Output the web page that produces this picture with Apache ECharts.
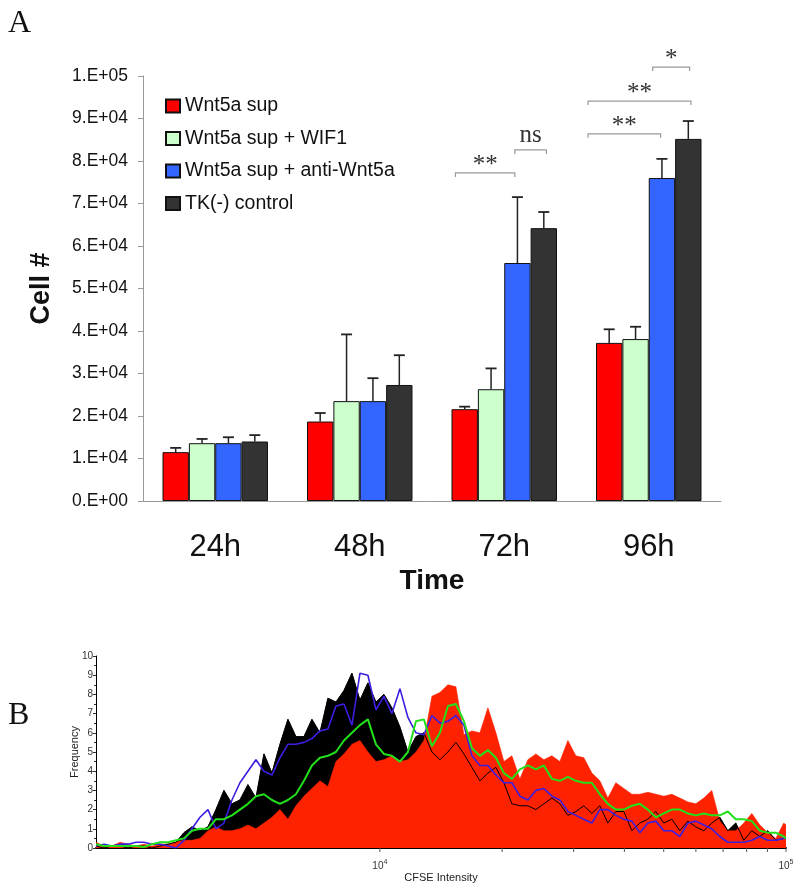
<!DOCTYPE html>
<html>
<head>
<meta charset="utf-8">
<script src="https://cdn.jsdelivr.net/npm/echarts@6/dist/echarts.min.js"></script>
<style>
  html, body { margin: 0; padding: 0; background: #fff; }
  #main { width: 800px; height: 893px; }
</style>
</head>
<body>
<div id="main"></div>
<script>
// ---- panel A: cell counts ----
var times = ['24h', '48h', '72h', '96h'];
var groupNames = ['Wnt5a sup', 'Wnt5a sup + WIF1', 'Wnt5a sup + anti-Wnt5a', 'TK(-) control'];
var wnt5a = [11500, 18700, 21600, 37200];
var wif1 = [13600, 23500, 26300, 38100];
var antiWnt5a = [13600, 23500, 56000, 76000];
var tkControl = [14000, 27300, 64200, 85200];
// upper error (SD)
var wnt5aErr = [1000, 2000, 600, 3200];
var wif1Err = [1000, 15700, 4900, 2900];
var antiWnt5aErr = [1400, 5400, 15500, 4500];
var tkControlErr = [1500, 7000, 3800, 4200];
var cellTickLabels = ['0.E+00', '1.E+04', '2.E+04', '3.E+04', '4.E+04', '5.E+04',
  '6.E+04', '7.E+04', '8.E+04', '9.E+04', '1.E+05'];

// significance brackets (time index, from bar, to bar, height)
var sigTime = [2, 2, 3, 3, 3];
var sigFrom = [-0.35, 1.9, -0.8, -0.8, 1.65];
var sigTo = [1.9, 3.1, 1.95, 3.1, 3.05];
var sigLevel = [77200, 82600, 86400, 94100, 102100];
var sigText = ['**', 'ns', '**', '**', '*'];

// ---- panel B: CFSE histogram ----
var cfse = [2000, 2093, 2190, 2291, 2398, 2509, 2625, 2747, 2874, 3008,
  3147, 3293, 3446, 3606, 3773, 3948, 4131, 4323, 4523, 4733,
  4953, 5183, 5423, 5675, 5938, 6213, 6502, 6803, 7119, 7449,
  7795, 8157, 8535, 8931, 9345, 9779, 10233, 10707, 11204, 11724,
  12268, 12837, 13432, 14055, 14707, 15390, 16103, 16850, 17632, 18450,
  19306, 20201, 21138, 22118, 23144, 24218, 25341, 26517, 27747, 29034,
  30380, 31789, 33264, 34807, 36421, 38111, 39879, 41728, 43664, 45689,
  47808, 50026, 52346, 54774, 57315, 59973, 62755, 65666, 68712, 71899,
  75234, 78724, 82375, 86196, 90194, 94378, 98756, 100000];
var redFreq = [0.3, 0.1, 0.1, 0.3, 0.2, 0.1, 0.2, 0.1, 0.2, 0.2,
  0.3, 0.4, 0.4, 0.5, 0.9, 1.1, 0.9, 0.9, 1.0, 1.2,
  1.0, 1.3, 1.6, 2.0, 1.5, 2.2, 2.7, 3.1, 3.5, 3.2,
  4.5, 4.9, 5.4, 5.6, 5.0, 4.5, 4.6, 4.8, 4.5, 4.6,
  5.0, 5.6, 7.9, 8.1, 8.5, 8.4, 5.9, 6.1, 6.0, 7.3,
  6.0, 4.5, 4.8, 3.6, 4.6, 4.9, 4.6, 4.8, 4.5, 5.6,
  4.8, 4.7, 3.9, 3.5, 2.6, 3.4, 3.1, 2.8, 2.8, 2.9,
  2.8, 2.7, 2.8, 2.6, 2.4, 2.3, 2.6, 3.0, 1.4, 0.9,
  0.9, 1.3, 1.8, 1.2, 0.8, 0.5, 1.3, 1.2];
var blackFreq = [0.1, 0.0, 0.1, 0.1, 0.0, 0.1, 0.1, 0.0, 0.1, 0.2,
  0.3, 0.8, 1.1, 0.9, 1.1, 2.0, 3.0, 2.3, 2.5, 3.3,
  2.6, 4.9, 3.9, 5.4, 6.7, 5.8, 5.8, 6.7, 6.0, 7.8,
  7.6, 8.2, 9.1, 7.7, 8.6, 7.6, 8.0, 7.3, 6.3, 5.0,
  5.8, 6.0, 5.0, 4.6, 5.0, 5.5, 4.9, 4.2, 3.5, 3.9,
  4.2, 3.4, 2.3, 2.2, 2.2, 2.0, 2.3, 2.6, 2.3, 1.7,
  1.9, 2.2, 1.8, 2.2, 1.3, 1.9, 1.9, 0.9, 1.3, 1.5,
  1.9, 1.3, 1.5, 0.9, 1.4, 1.1, 0.9, 1.3, 1.6, 0.9,
  1.3, 0.4, 0.9, 0.6, 0.9, 0.4, 0.5, 0.5];
var blueFreq = [0.1, 0.2, 0.1, 0.2, 0.2, 0.3, 0.3, 0.2, 0.2, 0.1,
  0.0, 0.4, 1.0, 1.6, 2.0, 1.0, 1.3, 2.5, 3.4, 4.0,
  4.6, 4.0, 3.8, 4.7, 5.4, 5.4, 5.5, 5.7, 6.1, 6.2,
  7.4, 7.5, 6.4, 9.1, 9.0, 7.2, 7.9, 7.0, 8.3, 6.8,
  6.0, 5.9, 6.9, 6.5, 6.6, 6.9, 6.4, 4.8, 4.3, 4.3,
  3.8, 3.4, 3.4, 2.7, 2.5, 3.0, 3.1, 2.7, 2.5, 1.9,
  1.7, 1.5, 1.3, 2.0, 2.0, 1.7, 1.5, 1.4, 0.8, 1.3,
  1.4, 0.9, 0.9, 0.6, 1.3, 1.4, 1.2, 1.0, 0.6, 0.3,
  0.3, 0.3, 0.4, 0.6, 0.4, 0.4, 0.5, 0.5];
var greenFreq = [0.2, 0.1, 0.1, 0.1, 0.1, 0.1, 0.05, 0.2, 0.3, 0.3,
  0.4, 0.5, 0.9, 1.0, 1.0, 1.5, 1.5, 1.7, 2.0, 2.3,
  2.7, 2.8, 2.5, 2.3, 2.5, 2.8, 3.5, 4.3, 4.7, 4.8,
  5.0, 5.6, 6.0, 6.4, 6.7, 5.4, 4.9, 4.8, 4.5, 5.0,
  6.6, 6.7, 5.3, 6.0, 7.4, 7.5, 6.6, 5.2, 4.8, 5.1,
  4.7, 3.9, 3.6, 4.1, 4.3, 4.1, 4.3, 3.6, 3.5, 3.7,
  3.5, 3.4, 3.4, 2.8, 2.3, 2.0, 2.0, 2.2, 2.3, 2.0,
  1.6, 1.8, 2.0, 2.0, 1.8, 1.7, 1.8, 1.7, 1.7, 1.9,
  1.5, 1.5, 1.4, 0.9, 0.8, 0.8, 0.6, 0.5];
var cfseTicks = [10000, 20000, 30000, 40000, 50000, 60000, 70000, 80000, 90000, 100000];

var SANS = '"Liberation Sans", Arial, sans-serif';
var SERIF = '"Liberation Serif", "Times New Roman", serif';
var barColors = ['#ff0000', '#ccffcc', '#3366ff', '#333333'];
var GAP = 0.27;

function pairs(xs, ys) {
  return xs.map(function (x, i) { return [x, ys[i]]; });
}

function errRender(barIdx) {
  return function (params, api) {
    var c = api.value(0), v = api.value(1), e = api.value(2);
    var bw = api.size([1, 0])[0] * (1 - GAP) / 4;
    var base = api.coord([c, v]);
    var top = api.coord([c, v + e]);
    var x = base[0] + (barIdx - 1.5) * bw;
    return {
      type: 'group',
      children: [
        { type: 'line', shape: { x1: x, y1: base[1], x2: x, y2: top[1] }, style: { stroke: '#222', lineWidth: 1.5 } },
        { type: 'line', shape: { x1: x - 5.5, y1: top[1], x2: x + 5.5, y2: top[1] }, style: { stroke: '#222', lineWidth: 1.8 } }
      ]
    };
  };
}

function sigRender(params, api) {
  var c = api.value(0);
  var bw = api.size([1, 0])[0] * (1 - GAP) / 4;
  var p = api.coord([c, api.value(3)]);
  var x1 = p[0] + (api.value(1) - 1.5) * bw;
  var x2 = p[0] + (api.value(2) - 1.5) * bw;
  var y = p[1];
  var txt = sigText[params.dataIndex];
  var isStar = txt.indexOf('*') >= 0;
  return {
    type: 'group',
    children: [
      { type: 'polyline', shape: { points: [[x1, y + 4], [x1, y], [x2, y], [x2, y + 4]] },
        style: { stroke: '#999', lineWidth: 1.2, fill: null } },
      { type: 'text', style: { text: txt, x: (x1 + x2) / 2, y: isStar ? y + 5 : y - 2,
        align: 'center', verticalAlign: 'bottom', fontFamily: SERIF,
        fontSize: 25, fill: '#333' } }
    ]
  };
}

function tickRender(params, api) {
  var v = api.value(0);
  var p = api.coord([v, 0]);
  return { type: 'line', shape: { x1: p[0], y1: p[1], x2: p[0], y2: p[1] + 4 },
    style: { stroke: '#555', lineWidth: 1 } };
}

var cellSeries = [wnt5a, wif1, antiWnt5a, tkControl];
var errSeries = [wnt5aErr, wif1Err, antiWnt5aErr, tkControlErr];

var series = [];
cellSeries.forEach(function (vals, k) {
  series.push({
    name: groupNames[k], type: 'bar', xAxisIndex: 0, yAxisIndex: 0,
    data: vals, barGap: '0%', barCategoryGap: (GAP * 100) + '%',
    itemStyle: { color: barColors[k], borderColor: '#111', borderWidth: 1 }
  });
});
errSeries.forEach(function (errs, k) {
  series.push({
    type: 'custom', xAxisIndex: 0, yAxisIndex: 0, z: 5, clip: false,
    renderItem: errRender(k),
    data: cellSeries[k].map(function (v, i) { return [i, v, errs[i]]; })
  });
});
series.push({
  type: 'custom', xAxisIndex: 0, yAxisIndex: 0, z: 5, clip: false,
  renderItem: sigRender,
  data: sigTime.map(function (t, i) { return [t, sigFrom[i], sigTo[i], sigLevel[i]]; })
});
// panel B
series.push({
  type: 'line', xAxisIndex: 1, yAxisIndex: 1, data: pairs(cfse, blackFreq), showSymbol: false,
  lineStyle: { color: '#000', width: 0.6 }, areaStyle: { color: '#000', opacity: 1 }, z: 1
});
series.push({
  type: 'line', xAxisIndex: 1, yAxisIndex: 1, data: pairs(cfse, redFreq), showSymbol: false,
  lineStyle: { color: '#ff2200', width: 0.6 }, areaStyle: { color: '#ff2200', opacity: 1 }, z: 2
});
series.push({
  type: 'line', xAxisIndex: 1, yAxisIndex: 1, data: pairs(cfse, blackFreq), showSymbol: false,
  lineStyle: { color: '#000', width: 1 }, z: 3
});
series.push({
  type: 'line', xAxisIndex: 1, yAxisIndex: 1, data: pairs(cfse, blueFreq), showSymbol: false,
  lineStyle: { color: '#3b1fe0', width: 1.6 }, z: 4
});
series.push({
  type: 'line', xAxisIndex: 1, yAxisIndex: 1, data: pairs(cfse, greenFreq), showSymbol: false,
  lineStyle: { color: '#22e01a', width: 2 }, z: 5
});
series.push({
  type: 'custom', xAxisIndex: 1, yAxisIndex: 1, clip: false, z: 6,
  renderItem: tickRender,
  data: cfseTicks.map(function (v) { return [v, 0]; })
});

var chart = echarts.init(document.getElementById('main'), null, { renderer: 'canvas' });
var option = {
  animation: false,
  backgroundColor: '#fff',
  textStyle: { fontFamily: SANS },
  graphic: [
    { type: 'text', left: 8, top: 8, style: { text: 'A', fontFamily: SERIF, fontSize: 32, fill: '#111' } },
    { type: 'text', left: 8, top: 700, style: { text: 'B', fontFamily: SERIF, fontSize: 32, fill: '#111' } }
  ],
  legend: {
    data: groupNames, orient: 'vertical', left: 160, top: 91,
    itemWidth: 14, itemHeight: 13, itemGap: 12.5, icon: 'rect',
    textStyle: { fontFamily: SANS, fontSize: 19.5, color: '#111', lineHeight: 18 }
  },
  grid: [
    { left: 143, top: 76, width: 578, height: 425 },
    { left: 96, top: 656, width: 690, height: 192 }
  ],
  xAxis: [
    {
      type: 'category', gridIndex: 0, data: times,
      axisLine: { lineStyle: { color: '#999', width: 1 } },
      axisTick: { length: 10, lineStyle: { color: '#888' } },
      axisLabel: { fontFamily: SANS, fontSize: 31, color: '#111', margin: 31 },
      name: 'Time', nameLocation: 'middle', nameGap: 66,
      nameTextStyle: { fontFamily: SANS, fontSize: 28, fontWeight: 'bold', color: '#111' }
    },
    {
      type: 'log', gridIndex: 1, logBase: 10, min: 2000, max: 100000,
      axisLine: { lineStyle: { color: '#000', width: 2 } },
      axisTick: { show: false },
      splitLine: { show: false },
      axisLabel: {
        margin: 11, fontFamily: SANS, fontSize: 10, color: '#333',
        formatter: function (v) {
          var e = Math.log10(v);
          if (Math.abs(e - Math.round(e)) > 0.01) return '';
          return '10{s|' + Math.round(e) + '}';
        },
        rich: { s: { fontSize: 7, verticalAlign: 'top', padding: [0, 0, 8, 0] } }
      },
      name: 'CFSE Intensity', nameLocation: 'middle', nameGap: 22,
      nameTextStyle: { fontFamily: SANS, fontSize: 11, color: '#222' }
    }
  ],
  yAxis: [
    {
      type: 'value', gridIndex: 0, min: 0, max: 100000, interval: 10000,
      axisLine: { show: true, lineStyle: { color: '#999', width: 1 } },
      axisTick: { show: true, length: 5, lineStyle: { color: '#999' } },
      splitLine: { show: false },
      axisLabel: {
        fontFamily: SANS, fontSize: 17.5, color: '#111', margin: 15,
        formatter: function (v) { return cellTickLabels[Math.round(v / 10000)]; }
      },
      name: 'Cell #', nameLocation: 'middle', nameGap: 88, nameRotate: 90,
      nameTextStyle: { fontFamily: SANS, fontSize: 27, fontWeight: 'bold', color: '#111' }
    },
    {
      type: 'value', gridIndex: 1, min: 0, max: 10, interval: 1,
      axisLine: { show: true, lineStyle: { color: '#000', width: 1 } },
      axisTick: { show: true, length: 3, lineStyle: { color: '#333' } },
      minorTick: { show: true, splitNumber: 2, length: 2, lineStyle: { color: '#333' } },
      splitLine: { show: false },
      axisLabel: { fontFamily: SANS, fontSize: 10, color: '#333', margin: 3 },
      name: 'Frequency', nameLocation: 'middle', nameGap: 16, nameRotate: 90,
      nameMoveOverlap: false,
      nameTextStyle: { fontFamily: SANS, fontSize: 11, color: '#222' }
    }
  ],
  series: series
};
chart.setOption(option);
</script>
</body>
</html>
